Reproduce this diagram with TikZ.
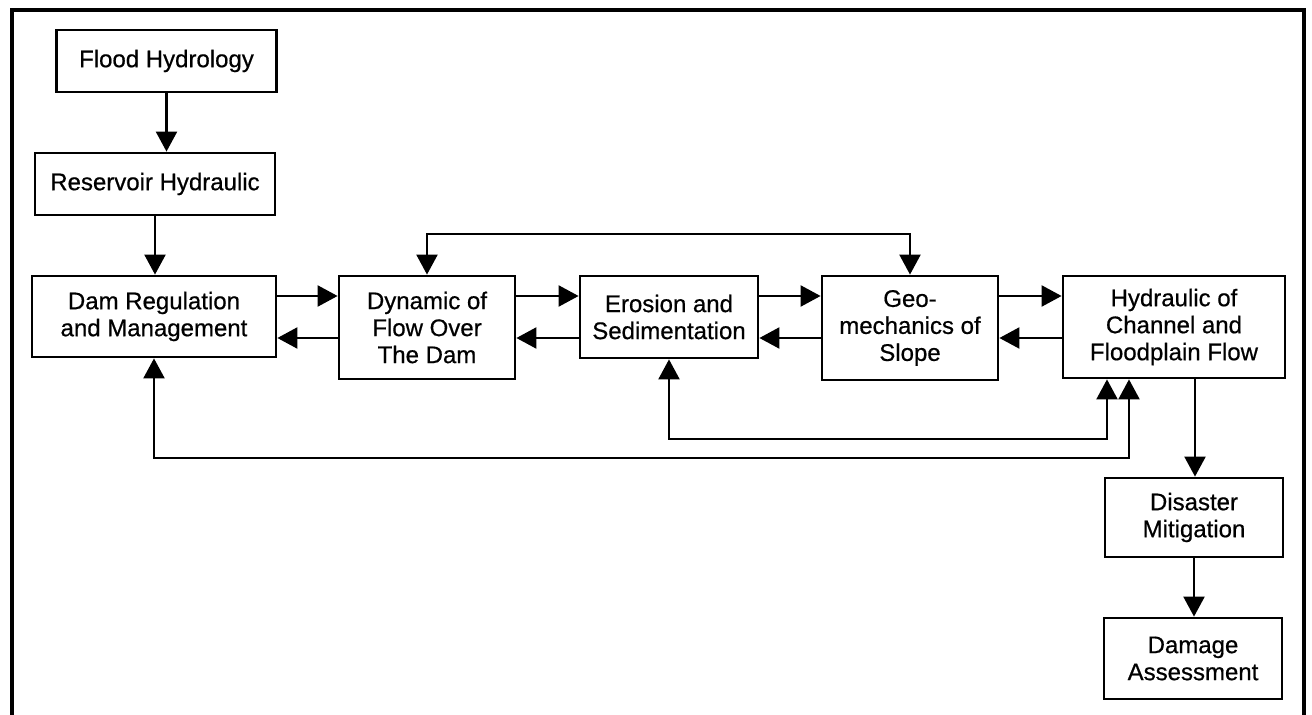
\documentclass[tikz,border=0pt]{standalone}
\usepackage{fontspec}
\setmainfont{Liberation Sans}[BoldFont=Liberation Sans,BoldFeatures={FakeBold=0.6}]
\usetikzlibrary{arrows.meta,calc}
\begin{document}
\begin{tikzpicture}[x=0.5pt,y=-0.5pt,
  box/.style={draw,line width=1.4pt,align=center,inner sep=0pt,font=\fontsize{12}{13.5}\selectfont\bfseries},
  arr/.style={line width=1.1pt,-{Triangle[length=10pt,width=10.5pt]}},
  darr/.style={line width=1.1pt,{Triangle[length=10pt,width=10.5pt]}-{Triangle[length=10pt,width=10.5pt]}}]
\useasboundingbox (0,0) rectangle (1312,715);
\draw[line width=1.6pt] (12,715) -- (12,10) -- (1304,10) -- (1304,715);
\node[box,minimum width=220*0.5pt,minimum height=62*0.5pt] (fh) at (166.5,61) {Flood Hydrology};
\node[box,minimum width=240*0.5pt,minimum height=62*0.5pt] (rh) at (155,184) {Reservoir Hydraulic};
\node[box,minimum width=244*0.5pt,minimum height=81*0.5pt] (dr) at (154,316.5) {Dam Regulation\\and Management};
\node[box,minimum width=176*0.5pt,minimum height=103*0.5pt] (df) at (427,327.5) {Dynamic of\\Flow Over\\The Dam};
\node[box,minimum width=178*0.5pt,minimum height=82*0.5pt] (es) at (669,317) {Erosion and\\Sedimentation};
\node[box,minimum width=176*0.5pt,minimum height=104*0.5pt] (gm) at (910,328) {Geo-\\mechanics of\\Slope};
\node[box,minimum width=222*0.5pt,minimum height=102*0.5pt] (hc) at (1174,327) {Hydraulic of\\Channel and\\Floodplain Flow};
\node[box,minimum width=178*0.5pt,minimum height=79*0.5pt] (dm) at (1194,517.5) {Disaster\\Mitigation};
\node[box,minimum width=178*0.5pt,minimum height=81*0.5pt] (da) at (1193,658.5) {Damage\\Assessment};
\coordinate (u) at (0,296);
\coordinate (l) at (0,338);
\coordinate (t) at (0,234);
\coordinate (b1) at (0,439);
\coordinate (b2) at (0,458);
\coordinate (x1) at (1107,0);
\coordinate (x2) at (1129,0);
\draw[arr] (fh.south) -- (fh.south |- rh.north);
\draw[arr] (rh.south) -- (rh.south |- dr.north);
\draw[arr] (dr.east |- u) -- (df.west |- u);
\draw[arr] (df.east |- u) -- (es.west |- u);
\draw[arr] (es.east |- u) -- (gm.west |- u);
\draw[arr] (gm.east |- u) -- (hc.west |- u);
\draw[arr] (df.west |- l) -- (dr.east |- l);
\draw[arr] (es.west |- l) -- (df.east |- l);
\draw[arr] (gm.west |- l) -- (es.east |- l);
\draw[arr] (hc.west |- l) -- (gm.east |- l);
\draw[darr] (df.north) -- (df.north |- t) -| (gm.north);
\draw[darr] (es.south) -- (es.south |- b1) -- (x1 |- b1) -- (x1 |- hc.south);
\draw[darr] (dr.south) -- (dr.south |- b2) -- (x2 |- b2) -- (x2 |- hc.south);
\draw[arr] ([xshift=10.5pt]hc.south) -- ([xshift=10.5pt]hc.south |- dm.north);
\draw[arr] (dm.south) -- (dm.south |- da.north);
\end{tikzpicture}
\end{document}
